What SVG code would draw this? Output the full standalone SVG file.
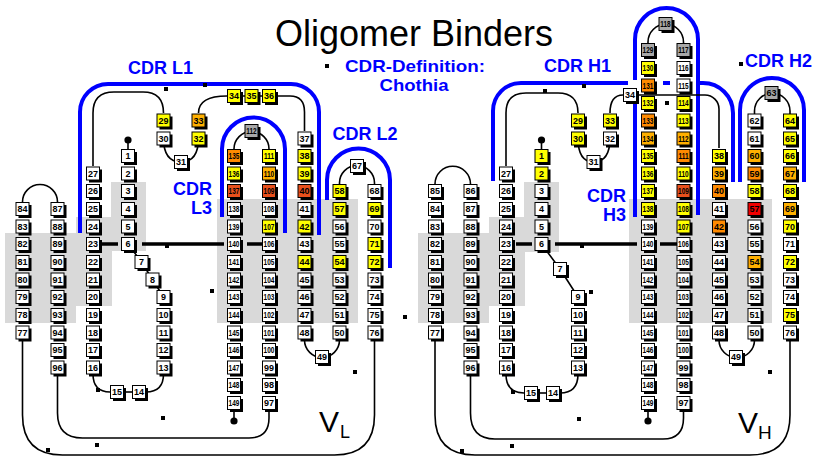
<svg xmlns="http://www.w3.org/2000/svg" xmlns:xlink="http://www.w3.org/1999/xlink" width="825" height="457" viewBox="0 0 825 457">
<style>
.n{fill:#fff}
.y{fill:#ffff00}
.o1{fill:#ffb000}
.o2{fill:#ff8a00}
.o3{fill:#e8501c}
.r{fill:#f00000}
.g{fill:#a8a8a8}
.n text{fill:#000;font-family:"Liberation Sans",Arial,sans-serif;font-weight:bold;font-size:9px;text-anchor:middle}
.n text.t{transform:scaleX(.72)}
.c{fill:none;stroke:#000;stroke-width:1.6}
.tk{fill:none;stroke:#000;stroke-width:3.5}
.bl{fill:none;stroke:#0000ff;stroke-width:4}
.lb{fill:#0000ff;font-family:"Liberation Sans",Arial,sans-serif;font-weight:bold;font-size:18px;text-anchor:middle}
.sq{fill:#000}
.gr{fill:#d9d9d9}
.vt{fill:#000;font-family:"Liberation Sans",Arial,sans-serif}
</style>
<defs>
<g id="b"><rect x="-4" y="-4" width="13" height="13" fill="#000"/><rect x="-6.5" y="-6.5" width="13" height="13" stroke="#000" stroke-width="1"/></g>
</defs>
<rect width="825" height="457" fill="#fff"/>
<g id="shading">
<path class="gr" d="M5,233H76V217H111V182H146V251H112V306H76V323H5Z"/>
<rect class="gr" x="217" y="199" width="141" height="124"/>
<path class="gr" d="M418,233H489V217H524V182H559V252H525V306H489V323H418Z"/>
<rect class="gr" x="629" y="199" width="143" height="124"/>
</g>
<g id="cdr-brackets">
<path class="bl" d="M80,233V112A28,28 0 0 1 108,84H291A28,28 0 0 1 319,112V235"/>
<path class="bl" d="M222,217V149A31.5,31.5 0 0 1 285,149V233"/>
<path class="bl" d="M327,200V180A31.5,31.5 0 0 1 390,180V268"/>
<path class="bl" d="M493,181V111A28,28 0 0 1 521,83H628"/>
<path class="bl" d="M663,83H670"/>
<path class="bl" d="M700,83H703A30,30 0 0 1 733,113V182"/>
<path class="bl" d="M635,217V100"/>
<path class="bl" d="M635,80V39.5A31.5,31.5 0 0 1 698,39.5V215"/>
<path class="bl" d="M740,182V110A32,32 0 0 1 804,110V182"/>
</g>
<g id="connectors">
<path class="c" d="M22.5,202A17.5,17.5 0 0 1 57.5,202"/>
<path class="c" d="M22.5,339V415Q22.5,455 62.5,455H334.5Q374.5,455 374.5,415V339"/>
<path class="c" d="M57.5,374V413Q57.5,438 82.5,438H249Q269,438 269,418V410"/>
<path class="c" d="M234,410V421"/>
<circle cx="234" cy="421" r="3.6" fill="#000"/>
<path class="c" d="M128,149V140"/>
<circle cx="128" cy="140" r="3.6" fill="#000"/>
<path class="c" d="M93,374Q93,392 110,392"/>
<path class="c" d="M124,392H132"/>
<path class="c" d="M146,392Q163.5,392 163.5,374"/>
<path class="c" d="M128,244L141.5,262L152.5,279.5L163.5,297"/>
<path class="c" d="M93,166V113Q93,92 114,92H143Q163.5,92 163.5,113"/>
<path class="c" d="M163.5,138Q163.5,162 181,162Q198.5,162 198.5,138"/>
<path class="c" d="M198.5,113Q198.5,96 227,96H269"/>
<path class="c" d="M269,96H290Q304.5,96 304.5,112V131"/>
<path class="c" d="M234,156V149A17.5,17.5 0 0 1 269,149V156"/>
<path class="c" d="M304.5,332V340A17.5,17.5 0 0 0 339.5,340V332"/>
<path class="c" d="M339.5,191V183A17.5,17.5 0 0 1 374.5,183V191"/>
<path class="tk" d="M102,244H118M142,244H224M247,244H263"/>
<path class="c" d="M435,184A17.75,17.75 0 0 1 470.5,184"/>
<path class="c" d="M435,339V415Q435,455 475,455H750Q790,455 790,415V339"/>
<path class="c" d="M470.5,374V413Q470.5,439 495,439H663Q683.5,439 683.5,418V410"/>
<path class="c" d="M648,410V421"/>
<circle cx="648" cy="421" r="3.6" fill="#000"/>
<path class="c" d="M541.5,149V140"/>
<circle cx="541.5" cy="140" r="3.6" fill="#000"/>
<path class="c" d="M506,374Q506,393 524,393"/>
<path class="c" d="M538,393H546"/>
<path class="c" d="M560,393Q578,393 578,374"/>
<path class="c" d="M541.5,244L560,269L578,297"/>
<path class="c" d="M506,166V113Q506,93 526,93H558Q578,93 578,113"/>
<path class="c" d="M578,138Q578,162 593.5,162Q610,162 610,138"/>
<path class="c" d="M610,113Q610,95 623,95"/>
<path class="c" d="M637,95H705A14,14 0 0 1 719,109V148"/>
<path class="c" d="M648,50V42A17.75,17.75 0 0 1 683.5,42V50"/>
<path class="c" d="M719,332V340A17.75,17.75 0 0 0 754.5,340V332"/>
<path class="c" d="M754.5,120V111A17.75,17.75 0 0 1 790,111V120"/>
<path class="tk" d="M516,244H532M555,244H637M660,244H677"/>
</g>
<g id="light-chain">
<g id="L84" class="n" transform="translate(22.5 209)"><use href="#b"/><text y="3.2">84</text></g>
<g id="L83" class="n" transform="translate(22.5 226.5)"><use href="#b"/><text y="3.2">83</text></g>
<g id="L82" class="n" transform="translate(22.5 244)"><use href="#b"/><text y="3.2">82</text></g>
<g id="L81" class="n" transform="translate(22.5 262)"><use href="#b"/><text y="3.2">81</text></g>
<g id="L80" class="n" transform="translate(22.5 279.5)"><use href="#b"/><text y="3.2">80</text></g>
<g id="L79" class="n" transform="translate(22.5 297)"><use href="#b"/><text y="3.2">79</text></g>
<g id="L78" class="n" transform="translate(22.5 315)"><use href="#b"/><text y="3.2">78</text></g>
<g id="L77" class="n" transform="translate(22.5 332.5)"><use href="#b"/><text y="3.2">77</text></g>
<g id="L87" class="n" transform="translate(57.5 209)"><use href="#b"/><text y="3.2">87</text></g>
<g id="L88" class="n" transform="translate(57.5 226.5)"><use href="#b"/><text y="3.2">88</text></g>
<g id="L89" class="n" transform="translate(57.5 244)"><use href="#b"/><text y="3.2">89</text></g>
<g id="L90" class="n" transform="translate(57.5 262)"><use href="#b"/><text y="3.2">90</text></g>
<g id="L91" class="n" transform="translate(57.5 279.5)"><use href="#b"/><text y="3.2">91</text></g>
<g id="L92" class="n" transform="translate(57.5 297)"><use href="#b"/><text y="3.2">92</text></g>
<g id="L93" class="n" transform="translate(57.5 315)"><use href="#b"/><text y="3.2">93</text></g>
<g id="L94" class="n" transform="translate(57.5 332.5)"><use href="#b"/><text y="3.2">94</text></g>
<g id="L95" class="n" transform="translate(57.5 350)"><use href="#b"/><text y="3.2">95</text></g>
<g id="L96" class="n" transform="translate(57.5 367.5)"><use href="#b"/><text y="3.2">96</text></g>
<g id="L27" class="n" transform="translate(93 173.5)"><use href="#b"/><text y="3.2">27</text></g>
<g id="L26" class="n" transform="translate(93 191)"><use href="#b"/><text y="3.2">26</text></g>
<g id="L25" class="n" transform="translate(93 209)"><use href="#b"/><text y="3.2">25</text></g>
<g id="L24" class="n" transform="translate(93 226.5)"><use href="#b"/><text y="3.2">24</text></g>
<g id="L23" class="n" transform="translate(93 244)"><use href="#b"/><text y="3.2">23</text></g>
<g id="L22" class="n" transform="translate(93 262)"><use href="#b"/><text y="3.2">22</text></g>
<g id="L21" class="n" transform="translate(93 279.5)"><use href="#b"/><text y="3.2">21</text></g>
<g id="L20" class="n" transform="translate(93 297)"><use href="#b"/><text y="3.2">20</text></g>
<g id="L19" class="n" transform="translate(93 315)"><use href="#b"/><text y="3.2">19</text></g>
<g id="L18" class="n" transform="translate(93 332.5)"><use href="#b"/><text y="3.2">18</text></g>
<g id="L17" class="n" transform="translate(93 350)"><use href="#b"/><text y="3.2">17</text></g>
<g id="L16" class="n" transform="translate(93 367.5)"><use href="#b"/><text y="3.2">16</text></g>
<g id="L1" class="n" transform="translate(128 156)"><use href="#b"/><text y="3.2">1</text></g>
<g id="L2" class="n" transform="translate(128 173.5)"><use href="#b"/><text y="3.2">2</text></g>
<g id="L3" class="n" transform="translate(128 191)"><use href="#b"/><text y="3.2">3</text></g>
<g id="L4" class="n" transform="translate(128 209)"><use href="#b"/><text y="3.2">4</text></g>
<g id="L5" class="n" transform="translate(128 226.5)"><use href="#b"/><text y="3.2">5</text></g>
<g id="L6" class="n" transform="translate(128 244)"><use href="#b"/><text y="3.2">6</text></g>
<g id="L7" class="n" transform="translate(141.5 262)"><use href="#b"/><text y="3.2">7</text></g>
<g id="L8" class="n" transform="translate(152.5 279.5)"><use href="#b"/><text y="3.2">8</text></g>
<g id="L9" class="n" transform="translate(163.5 297)"><use href="#b"/><text y="3.2">9</text></g>
<g id="L10" class="n" transform="translate(163.5 315)"><use href="#b"/><text y="3.2">10</text></g>
<g id="L11" class="n" transform="translate(163.5 332.5)"><use href="#b"/><text y="3.2">11</text></g>
<g id="L12" class="n" transform="translate(163.5 350)"><use href="#b"/><text y="3.2">12</text></g>
<g id="L13" class="n" transform="translate(163.5 367.5)"><use href="#b"/><text y="3.2">13</text></g>
<g id="L15" class="n" transform="translate(117 392)"><use href="#b"/><text y="3.2">15</text></g>
<g id="L14" class="n" transform="translate(139 392)"><use href="#b"/><text y="3.2">14</text></g>
<g id="L29" class="n y" transform="translate(163.5 120.5)"><use href="#b"/><text y="3.2">29</text></g>
<g id="L30" class="n" transform="translate(163.5 138.5)"><use href="#b"/><text y="3.2">30</text></g>
<g id="L31" class="n" transform="translate(181 162)"><use href="#b"/><text y="3.2">31</text></g>
<g id="L33" class="n o1" transform="translate(198.5 120.5)"><use href="#b"/><text y="3.2">33</text></g>
<g id="L32" class="n y" transform="translate(198.5 138.5)"><use href="#b"/><text y="3.2">32</text></g>
<g id="L34" class="n y" transform="translate(234 96)"><use href="#b"/><text y="3.2">34</text></g>
<g id="L35" class="n y" transform="translate(251.5 96)"><use href="#b"/><text y="3.2">35</text></g>
<g id="L36" class="n y" transform="translate(269 96)"><use href="#b"/><text y="3.2">36</text></g>
<g id="L37" class="n" transform="translate(304.5 138.5)"><use href="#b"/><text y="3.2">37</text></g>
<g id="L38" class="n y" transform="translate(304.5 156)"><use href="#b"/><text y="3.2">38</text></g>
<g id="L39" class="n y" transform="translate(304.5 173.5)"><use href="#b"/><text y="3.2">39</text></g>
<g id="L40" class="n o3" transform="translate(304.5 191)"><use href="#b"/><text y="3.2">40</text></g>
<g id="L41" class="n" transform="translate(304.5 209)"><use href="#b"/><text y="3.2">41</text></g>
<g id="L42" class="n y" transform="translate(304.5 226.5)"><use href="#b"/><text y="3.2">42</text></g>
<g id="L43" class="n" transform="translate(304.5 244)"><use href="#b"/><text y="3.2">43</text></g>
<g id="L44" class="n y" transform="translate(304.5 262)"><use href="#b"/><text y="3.2">44</text></g>
<g id="L45" class="n" transform="translate(304.5 279.5)"><use href="#b"/><text y="3.2">45</text></g>
<g id="L46" class="n" transform="translate(304.5 297)"><use href="#b"/><text y="3.2">46</text></g>
<g id="L47" class="n" transform="translate(304.5 315)"><use href="#b"/><text y="3.2">47</text></g>
<g id="L48" class="n" transform="translate(304.5 332.5)"><use href="#b"/><text y="3.2">48</text></g>
<g id="L49" class="n" transform="translate(322 357)"><use href="#b"/><text y="3.2">49</text></g>
<g id="L58" class="n y" transform="translate(339.5 191)"><use href="#b"/><text y="3.2">58</text></g>
<g id="L57" class="n y" transform="translate(339.5 209)"><use href="#b"/><text y="3.2">57</text></g>
<g id="L56" class="n" transform="translate(339.5 226.5)"><use href="#b"/><text y="3.2">56</text></g>
<g id="L55" class="n" transform="translate(339.5 244)"><use href="#b"/><text y="3.2">55</text></g>
<g id="L54" class="n y" transform="translate(339.5 262)"><use href="#b"/><text y="3.2">54</text></g>
<g id="L53" class="n" transform="translate(339.5 279.5)"><use href="#b"/><text y="3.2">53</text></g>
<g id="L52" class="n" transform="translate(339.5 297)"><use href="#b"/><text y="3.2">52</text></g>
<g id="L51" class="n" transform="translate(339.5 315)"><use href="#b"/><text y="3.2">51</text></g>
<g id="L50" class="n" transform="translate(339.5 332.5)"><use href="#b"/><text y="3.2">50</text></g>
<g id="L67" class="n" transform="translate(357 166)"><use href="#b"/><text y="3.2">67</text></g>
<g id="L68" class="n" transform="translate(374.5 191)"><use href="#b"/><text y="3.2">68</text></g>
<g id="L69" class="n y" transform="translate(374.5 209)"><use href="#b"/><text y="3.2">69</text></g>
<g id="L70" class="n" transform="translate(374.5 226.5)"><use href="#b"/><text y="3.2">70</text></g>
<g id="L71" class="n y" transform="translate(374.5 244)"><use href="#b"/><text y="3.2">71</text></g>
<g id="L72" class="n y" transform="translate(374.5 262)"><use href="#b"/><text y="3.2">72</text></g>
<g id="L73" class="n" transform="translate(374.5 279.5)"><use href="#b"/><text y="3.2">73</text></g>
<g id="L74" class="n" transform="translate(374.5 297)"><use href="#b"/><text y="3.2">74</text></g>
<g id="L75" class="n" transform="translate(374.5 315)"><use href="#b"/><text y="3.2">75</text></g>
<g id="L76" class="n" transform="translate(374.5 332.5)"><use href="#b"/><text y="3.2">76</text></g>
<g id="L112" class="n g" transform="translate(251.5 131)"><use href="#b"/><text class="t" y="3.2">112</text></g>
<g id="L135" class="n o2" transform="translate(234 156)"><use href="#b"/><text class="t" y="3.2">135</text></g>
<g id="L136" class="n y" transform="translate(234 173.5)"><use href="#b"/><text class="t" y="3.2">136</text></g>
<g id="L137" class="n o3" transform="translate(234 191)"><use href="#b"/><text class="t" y="3.2">137</text></g>
<g id="L138" class="n" transform="translate(234 209)"><use href="#b"/><text class="t" y="3.2">138</text></g>
<g id="L139" class="n" transform="translate(234 226.5)"><use href="#b"/><text class="t" y="3.2">139</text></g>
<g id="L140" class="n" transform="translate(234 244)"><use href="#b"/><text class="t" y="3.2">140</text></g>
<g id="L141" class="n" transform="translate(234 262)"><use href="#b"/><text class="t" y="3.2">141</text></g>
<g id="L142" class="n" transform="translate(234 279.5)"><use href="#b"/><text class="t" y="3.2">142</text></g>
<g id="L143" class="n" transform="translate(234 297)"><use href="#b"/><text class="t" y="3.2">143</text></g>
<g id="L144" class="n" transform="translate(234 315)"><use href="#b"/><text class="t" y="3.2">144</text></g>
<g id="L145" class="n" transform="translate(234 332.5)"><use href="#b"/><text class="t" y="3.2">145</text></g>
<g id="L146" class="n" transform="translate(234 350)"><use href="#b"/><text class="t" y="3.2">146</text></g>
<g id="L147" class="n" transform="translate(234 367.5)"><use href="#b"/><text class="t" y="3.2">147</text></g>
<g id="L148" class="n" transform="translate(234 385)"><use href="#b"/><text class="t" y="3.2">148</text></g>
<g id="L149" class="n" transform="translate(234 403)"><use href="#b"/><text class="t" y="3.2">149</text></g>
<g id="L111" class="n y" transform="translate(269 156)"><use href="#b"/><text class="t" y="3.2">111</text></g>
<g id="L110" class="n o1" transform="translate(269 173.5)"><use href="#b"/><text class="t" y="3.2">110</text></g>
<g id="L109" class="n o3" transform="translate(269 191)"><use href="#b"/><text class="t" y="3.2">109</text></g>
<g id="L108" class="n" transform="translate(269 209)"><use href="#b"/><text class="t" y="3.2">108</text></g>
<g id="L107" class="n y" transform="translate(269 226.5)"><use href="#b"/><text class="t" y="3.2">107</text></g>
<g id="L106" class="n" transform="translate(269 244)"><use href="#b"/><text class="t" y="3.2">106</text></g>
<g id="L105" class="n" transform="translate(269 262)"><use href="#b"/><text class="t" y="3.2">105</text></g>
<g id="L104" class="n" transform="translate(269 279.5)"><use href="#b"/><text class="t" y="3.2">104</text></g>
<g id="L103" class="n" transform="translate(269 297)"><use href="#b"/><text class="t" y="3.2">103</text></g>
<g id="L102" class="n" transform="translate(269 315)"><use href="#b"/><text class="t" y="3.2">102</text></g>
<g id="L101" class="n" transform="translate(269 332.5)"><use href="#b"/><text class="t" y="3.2">101</text></g>
<g id="L100" class="n" transform="translate(269 350)"><use href="#b"/><text class="t" y="3.2">100</text></g>
<g id="L99" class="n" transform="translate(269 367.5)"><use href="#b"/><text y="3.2">99</text></g>
<g id="L98" class="n" transform="translate(269 385)"><use href="#b"/><text y="3.2">98</text></g>
<g id="L97" class="n" transform="translate(269 403)"><use href="#b"/><text y="3.2">97</text></g>
</g>
<g id="heavy-chain">
<g id="H85" class="n" transform="translate(435 191)"><use href="#b"/><text y="3.2">85</text></g>
<g id="H84" class="n" transform="translate(435 209)"><use href="#b"/><text y="3.2">84</text></g>
<g id="H83" class="n" transform="translate(435 226.5)"><use href="#b"/><text y="3.2">83</text></g>
<g id="H82" class="n" transform="translate(435 244)"><use href="#b"/><text y="3.2">82</text></g>
<g id="H81" class="n" transform="translate(435 262)"><use href="#b"/><text y="3.2">81</text></g>
<g id="H80" class="n" transform="translate(435 279.5)"><use href="#b"/><text y="3.2">80</text></g>
<g id="H79" class="n" transform="translate(435 297)"><use href="#b"/><text y="3.2">79</text></g>
<g id="H78" class="n" transform="translate(435 315)"><use href="#b"/><text y="3.2">78</text></g>
<g id="H77" class="n" transform="translate(435 332.5)"><use href="#b"/><text y="3.2">77</text></g>
<g id="H86" class="n" transform="translate(470.5 191)"><use href="#b"/><text y="3.2">86</text></g>
<g id="H87" class="n" transform="translate(470.5 209)"><use href="#b"/><text y="3.2">87</text></g>
<g id="H88" class="n" transform="translate(470.5 226.5)"><use href="#b"/><text y="3.2">88</text></g>
<g id="H89" class="n" transform="translate(470.5 244)"><use href="#b"/><text y="3.2">89</text></g>
<g id="H90" class="n" transform="translate(470.5 262)"><use href="#b"/><text y="3.2">90</text></g>
<g id="H91" class="n" transform="translate(470.5 279.5)"><use href="#b"/><text y="3.2">91</text></g>
<g id="H92" class="n" transform="translate(470.5 297)"><use href="#b"/><text y="3.2">92</text></g>
<g id="H93" class="n" transform="translate(470.5 315)"><use href="#b"/><text y="3.2">93</text></g>
<g id="H94" class="n" transform="translate(470.5 332.5)"><use href="#b"/><text y="3.2">94</text></g>
<g id="H95" class="n" transform="translate(470.5 350)"><use href="#b"/><text y="3.2">95</text></g>
<g id="H96" class="n" transform="translate(470.5 367.5)"><use href="#b"/><text y="3.2">96</text></g>
<g id="H27" class="n" transform="translate(506 173.5)"><use href="#b"/><text y="3.2">27</text></g>
<g id="H26" class="n" transform="translate(506 191)"><use href="#b"/><text y="3.2">26</text></g>
<g id="H25" class="n" transform="translate(506 209)"><use href="#b"/><text y="3.2">25</text></g>
<g id="H24" class="n" transform="translate(506 226.5)"><use href="#b"/><text y="3.2">24</text></g>
<g id="H23" class="n" transform="translate(506 244)"><use href="#b"/><text y="3.2">23</text></g>
<g id="H22" class="n" transform="translate(506 262)"><use href="#b"/><text y="3.2">22</text></g>
<g id="H21" class="n" transform="translate(506 279.5)"><use href="#b"/><text y="3.2">21</text></g>
<g id="H20" class="n" transform="translate(506 297)"><use href="#b"/><text y="3.2">20</text></g>
<g id="H19" class="n" transform="translate(506 315)"><use href="#b"/><text y="3.2">19</text></g>
<g id="H18" class="n" transform="translate(506 332.5)"><use href="#b"/><text y="3.2">18</text></g>
<g id="H17" class="n" transform="translate(506 350)"><use href="#b"/><text y="3.2">17</text></g>
<g id="H16" class="n" transform="translate(506 367.5)"><use href="#b"/><text y="3.2">16</text></g>
<g id="H1" class="n y" transform="translate(541.5 156)"><use href="#b"/><text y="3.2">1</text></g>
<g id="H2" class="n y" transform="translate(541.5 173.5)"><use href="#b"/><text y="3.2">2</text></g>
<g id="H3" class="n" transform="translate(541.5 191)"><use href="#b"/><text y="3.2">3</text></g>
<g id="H4" class="n" transform="translate(541.5 209)"><use href="#b"/><text y="3.2">4</text></g>
<g id="H5" class="n" transform="translate(541.5 226.5)"><use href="#b"/><text y="3.2">5</text></g>
<g id="H6" class="n" transform="translate(541.5 244)"><use href="#b"/><text y="3.2">6</text></g>
<g id="H7" class="n" transform="translate(560 269)"><use href="#b"/><text y="3.2">7</text></g>
<g id="H9" class="n" transform="translate(578 297)"><use href="#b"/><text y="3.2">9</text></g>
<g id="H10" class="n" transform="translate(578 315)"><use href="#b"/><text y="3.2">10</text></g>
<g id="H11" class="n" transform="translate(578 332.5)"><use href="#b"/><text y="3.2">11</text></g>
<g id="H12" class="n" transform="translate(578 350)"><use href="#b"/><text y="3.2">12</text></g>
<g id="H13" class="n" transform="translate(578 367.5)"><use href="#b"/><text y="3.2">13</text></g>
<g id="H15" class="n" transform="translate(531 393)"><use href="#b"/><text y="3.2">15</text></g>
<g id="H14" class="n" transform="translate(553 393)"><use href="#b"/><text y="3.2">14</text></g>
<g id="H29" class="n y" transform="translate(578 120.5)"><use href="#b"/><text y="3.2">29</text></g>
<g id="H30" class="n y" transform="translate(578 138.5)"><use href="#b"/><text y="3.2">30</text></g>
<g id="H31" class="n" transform="translate(593.5 162)"><use href="#b"/><text y="3.2">31</text></g>
<g id="H33" class="n y" transform="translate(610 120.5)"><use href="#b"/><text y="3.2">33</text></g>
<g id="H32" class="n" transform="translate(610 138.5)"><use href="#b"/><text y="3.2">32</text></g>
<g id="H34" class="n" transform="translate(630 95)"><use href="#b"/><text y="3.2">34</text></g>
<g id="H118" class="n g" transform="translate(665.5 24)"><use href="#b"/><text class="t" y="3.2">118</text></g>
<g id="H129" class="n g" transform="translate(648 50)"><use href="#b"/><text class="t" y="3.2">129</text></g>
<g id="H130" class="n y" transform="translate(648 68)"><use href="#b"/><text class="t" y="3.2">130</text></g>
<g id="H131" class="n o2" transform="translate(648 85.5)"><use href="#b"/><text class="t" y="3.2">131</text></g>
<g id="H132" class="n y" transform="translate(648 103)"><use href="#b"/><text class="t" y="3.2">132</text></g>
<g id="H133" class="n o2" transform="translate(648 120.5)"><use href="#b"/><text class="t" y="3.2">133</text></g>
<g id="H134" class="n o1" transform="translate(648 138.5)"><use href="#b"/><text class="t" y="3.2">134</text></g>
<g id="H135" class="n y" transform="translate(648 156)"><use href="#b"/><text class="t" y="3.2">135</text></g>
<g id="H136" class="n y" transform="translate(648 173.5)"><use href="#b"/><text class="t" y="3.2">136</text></g>
<g id="H137" class="n y" transform="translate(648 191)"><use href="#b"/><text class="t" y="3.2">137</text></g>
<g id="H138" class="n y" transform="translate(648 209)"><use href="#b"/><text class="t" y="3.2">138</text></g>
<g id="H139" class="n" transform="translate(648 226.5)"><use href="#b"/><text class="t" y="3.2">139</text></g>
<g id="H140" class="n" transform="translate(648 244)"><use href="#b"/><text class="t" y="3.2">140</text></g>
<g id="H141" class="n" transform="translate(648 262)"><use href="#b"/><text class="t" y="3.2">141</text></g>
<g id="H142" class="n" transform="translate(648 279.5)"><use href="#b"/><text class="t" y="3.2">142</text></g>
<g id="H143" class="n" transform="translate(648 297)"><use href="#b"/><text class="t" y="3.2">143</text></g>
<g id="H144" class="n" transform="translate(648 315)"><use href="#b"/><text class="t" y="3.2">144</text></g>
<g id="H145" class="n" transform="translate(648 332.5)"><use href="#b"/><text class="t" y="3.2">145</text></g>
<g id="H146" class="n" transform="translate(648 350)"><use href="#b"/><text class="t" y="3.2">146</text></g>
<g id="H147" class="n" transform="translate(648 367.5)"><use href="#b"/><text class="t" y="3.2">147</text></g>
<g id="H148" class="n" transform="translate(648 385)"><use href="#b"/><text class="t" y="3.2">148</text></g>
<g id="H149" class="n" transform="translate(648 403)"><use href="#b"/><text class="t" y="3.2">149</text></g>
<g id="H117" class="n g" transform="translate(683.5 50)"><use href="#b"/><text class="t" y="3.2">117</text></g>
<g id="H116" class="n" transform="translate(683.5 68)"><use href="#b"/><text class="t" y="3.2">116</text></g>
<g id="H115" class="n" transform="translate(683.5 85.5)"><use href="#b"/><text class="t" y="3.2">115</text></g>
<g id="H114" class="n y" transform="translate(683.5 103)"><use href="#b"/><text class="t" y="3.2">114</text></g>
<g id="H113" class="n y" transform="translate(683.5 120.5)"><use href="#b"/><text class="t" y="3.2">113</text></g>
<g id="H112" class="n o1" transform="translate(683.5 138.5)"><use href="#b"/><text class="t" y="3.2">112</text></g>
<g id="H111" class="n o2" transform="translate(683.5 156)"><use href="#b"/><text class="t" y="3.2">111</text></g>
<g id="H110" class="n y" transform="translate(683.5 173.5)"><use href="#b"/><text class="t" y="3.2">110</text></g>
<g id="H109" class="n o3" transform="translate(683.5 191)"><use href="#b"/><text class="t" y="3.2">109</text></g>
<g id="H108" class="n y" transform="translate(683.5 209)"><use href="#b"/><text class="t" y="3.2">108</text></g>
<g id="H107" class="n y" transform="translate(683.5 226.5)"><use href="#b"/><text class="t" y="3.2">107</text></g>
<g id="H106" class="n" transform="translate(683.5 244)"><use href="#b"/><text class="t" y="3.2">106</text></g>
<g id="H105" class="n" transform="translate(683.5 262)"><use href="#b"/><text class="t" y="3.2">105</text></g>
<g id="H104" class="n" transform="translate(683.5 279.5)"><use href="#b"/><text class="t" y="3.2">104</text></g>
<g id="H103" class="n" transform="translate(683.5 297)"><use href="#b"/><text class="t" y="3.2">103</text></g>
<g id="H102" class="n" transform="translate(683.5 315)"><use href="#b"/><text class="t" y="3.2">102</text></g>
<g id="H101" class="n" transform="translate(683.5 332.5)"><use href="#b"/><text class="t" y="3.2">101</text></g>
<g id="H100" class="n" transform="translate(683.5 350)"><use href="#b"/><text class="t" y="3.2">100</text></g>
<g id="H99" class="n" transform="translate(683.5 367.5)"><use href="#b"/><text y="3.2">99</text></g>
<g id="H98" class="n" transform="translate(683.5 385)"><use href="#b"/><text y="3.2">98</text></g>
<g id="H97" class="n" transform="translate(683.5 403)"><use href="#b"/><text y="3.2">97</text></g>
<g id="H38" class="n y" transform="translate(719 156)"><use href="#b"/><text y="3.2">38</text></g>
<g id="H39" class="n o1" transform="translate(719 173.5)"><use href="#b"/><text y="3.2">39</text></g>
<g id="H40" class="n o2" transform="translate(719 191)"><use href="#b"/><text y="3.2">40</text></g>
<g id="H41" class="n" transform="translate(719 209)"><use href="#b"/><text y="3.2">41</text></g>
<g id="H42" class="n o2" transform="translate(719 226.5)"><use href="#b"/><text y="3.2">42</text></g>
<g id="H43" class="n" transform="translate(719 244)"><use href="#b"/><text y="3.2">43</text></g>
<g id="H44" class="n" transform="translate(719 262)"><use href="#b"/><text y="3.2">44</text></g>
<g id="H45" class="n" transform="translate(719 279.5)"><use href="#b"/><text y="3.2">45</text></g>
<g id="H46" class="n" transform="translate(719 297)"><use href="#b"/><text y="3.2">46</text></g>
<g id="H47" class="n" transform="translate(719 315)"><use href="#b"/><text y="3.2">47</text></g>
<g id="H48" class="n" transform="translate(719 332.5)"><use href="#b"/><text y="3.2">48</text></g>
<g id="H49" class="n" transform="translate(736 357)"><use href="#b"/><text y="3.2">49</text></g>
<g id="H62" class="n" transform="translate(754.5 120.5)"><use href="#b"/><text y="3.2">62</text></g>
<g id="H61" class="n" transform="translate(754.5 138.5)"><use href="#b"/><text y="3.2">61</text></g>
<g id="H60" class="n o1" transform="translate(754.5 156)"><use href="#b"/><text y="3.2">60</text></g>
<g id="H59" class="n o2" transform="translate(754.5 173.5)"><use href="#b"/><text y="3.2">59</text></g>
<g id="H58" class="n y" transform="translate(754.5 191)"><use href="#b"/><text y="3.2">58</text></g>
<g id="H57" class="n r" transform="translate(754.5 209)"><use href="#b"/><text y="3.2">57</text></g>
<g id="H56" class="n" transform="translate(754.5 226.5)"><use href="#b"/><text y="3.2">56</text></g>
<g id="H55" class="n" transform="translate(754.5 244)"><use href="#b"/><text y="3.2">55</text></g>
<g id="H54" class="n o1" transform="translate(754.5 262)"><use href="#b"/><text y="3.2">54</text></g>
<g id="H53" class="n" transform="translate(754.5 279.5)"><use href="#b"/><text y="3.2">53</text></g>
<g id="H52" class="n" transform="translate(754.5 297)"><use href="#b"/><text y="3.2">52</text></g>
<g id="H51" class="n" transform="translate(754.5 315)"><use href="#b"/><text y="3.2">51</text></g>
<g id="H50" class="n" transform="translate(754.5 332.5)"><use href="#b"/><text y="3.2">50</text></g>
<g id="H63" class="n g" transform="translate(771.5 93)"><use href="#b"/><text y="3.2">63</text></g>
<g id="H64" class="n y" transform="translate(790 120.5)"><use href="#b"/><text y="3.2">64</text></g>
<g id="H65" class="n y" transform="translate(790 138.5)"><use href="#b"/><text y="3.2">65</text></g>
<g id="H66" class="n y" transform="translate(790 156)"><use href="#b"/><text y="3.2">66</text></g>
<g id="H67" class="n o1" transform="translate(790 173.5)"><use href="#b"/><text y="3.2">67</text></g>
<g id="H68" class="n y" transform="translate(790 191)"><use href="#b"/><text y="3.2">68</text></g>
<g id="H69" class="n o1" transform="translate(790 209)"><use href="#b"/><text y="3.2">69</text></g>
<g id="H70" class="n y" transform="translate(790 226.5)"><use href="#b"/><text y="3.2">70</text></g>
<g id="H71" class="n" transform="translate(790 244)"><use href="#b"/><text y="3.2">71</text></g>
<g id="H72" class="n y" transform="translate(790 262)"><use href="#b"/><text y="3.2">72</text></g>
<g id="H73" class="n" transform="translate(790 279.5)"><use href="#b"/><text y="3.2">73</text></g>
<g id="H74" class="n" transform="translate(790 297)"><use href="#b"/><text y="3.2">74</text></g>
<g id="H75" class="n y" transform="translate(790 315)"><use href="#b"/><text y="3.2">75</text></g>
<g id="H76" class="n" transform="translate(790 332.5)"><use href="#b"/><text y="3.2">76</text></g>
</g>
<g id="labels">
<text x="414" y="46" font-family="Liberation Sans, Arial, sans-serif" font-size="36" text-anchor="middle" fill="#000">Oligomer Binders</text>
<text class="lb" x="415" y="71.5" style="font-size:17px" textLength="140" lengthAdjust="spacingAndGlyphs">CDR-Definition:</text>
<text class="lb" x="414" y="91" style="font-size:17px" textLength="69" lengthAdjust="spacingAndGlyphs">Chothia</text>
<text class="lb" x="160.5" y="74">CDR L1</text>
<text class="lb" x="365" y="140">CDR L2</text>
<text class="lb" style="text-anchor:end"><tspan x="212" y="195">CDR</tspan><tspan x="212" y="214">L3</tspan></text>
<text class="lb" x="577.5" y="72">CDR H1</text>
<text class="lb" style="text-anchor:end"><tspan x="626" y="202">CDR</tspan><tspan x="626" y="221">H3</tspan></text>
<text class="lb" x="778.5" y="67">CDR H2</text>
<text class="vt" x="319" y="432" font-size="30">V</text>
<text class="vt" x="340" y="438" font-size="18">L</text>
<text class="vt" x="738" y="433" font-size="30">V</text>
<text class="vt" x="758" y="439" font-size="19">H</text>
</g>
<g id="marks">
<rect class="sq" x="164" y="87" width="4" height="4"/>
<rect class="sq" x="203" y="83" width="4" height="4"/>
<rect class="sq" x="325" y="64" width="4" height="4"/>
<rect class="sq" x="96" y="388" width="4" height="4"/>
<rect class="sq" x="161" y="416" width="4" height="4"/>
<rect class="sq" x="95" y="443" width="4" height="4"/>
<rect class="sq" x="46" y="448" width="4" height="4"/>
<rect class="sq" x="210" y="289" width="4" height="4"/>
<rect class="sq" x="403" y="315" width="4" height="4"/>
<rect class="sq" x="353" y="370" width="4" height="4"/>
<rect class="sq" x="165" y="244" width="4" height="4"/>
<rect class="sq" x="543" y="89" width="4" height="4"/>
<rect class="sq" x="582" y="84" width="4" height="4"/>
<rect class="sq" x="739" y="62" width="4" height="4"/>
<rect class="sq" x="665" y="101" width="4" height="4"/>
<rect class="sq" x="589" y="290" width="4" height="4"/>
<rect class="sq" x="511" y="390" width="4" height="4"/>
<rect class="sq" x="577" y="417" width="4" height="4"/>
<rect class="sq" x="510" y="444" width="4" height="4"/>
<rect class="sq" x="460" y="449" width="4" height="4"/>
<rect class="sq" x="768" y="370" width="4" height="4"/>
<rect class="sq" x="580" y="244" width="4" height="4"/>
</g>
</svg>
